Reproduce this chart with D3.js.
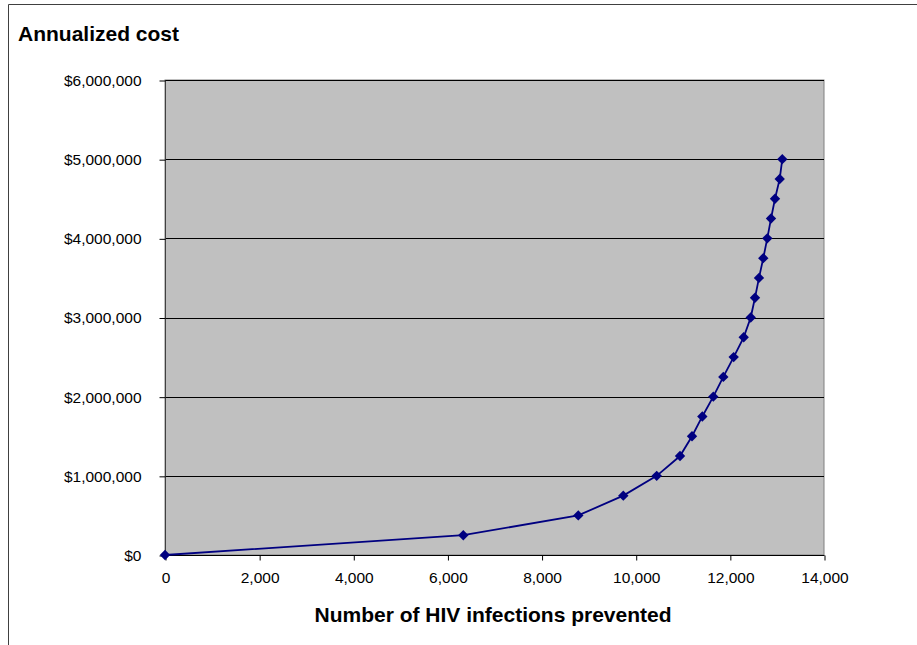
<!DOCTYPE html>
<html>
<head>
<meta charset="utf-8">
<script src="https://cdn.jsdelivr.net/npm/d3@7"></script>
<style>
  html, body { margin: 0; padding: 0; background: #fff; }
  svg { display: block; }
</style>
</head>
<body>
<svg id="chart" width="917" height="645"></svg>
<script>
const infectionsPrevented = [0, 6337, 8780, 9736, 10446, 10941, 11196, 11415, 11648, 11861, 12081, 12294, 12443, 12534, 12619, 12710, 12795, 12874, 12959, 13059, 13114];
const annualizedCost = [0, 250000, 500000, 750000, 1000000, 1250000, 1500000, 1750000, 2000000, 2250000, 2500000, 2750000, 3000000, 3250000, 3500000, 3750000, 4000000, 4250000, 4500000, 4750000, 5000000];
const xTicks = [0, 2000, 4000, 6000, 8000, 10000, 12000, 14000];
const yTicks = [0, 1000000, 2000000, 3000000, 4000000, 5000000, 6000000];
const chartTitle = "Annualized cost";
const xTitle = "Number of HIV infections prevented";

const svg = d3.select("#chart");
const font = "'Liberation Sans', Arial, sans-serif";
const plot = { left: 165, right: 824, top: 80, bottom: 555 };

const x = d3.scaleLinear().domain([0, 14000]).range([plot.left, plot.right]);
const y = d3.scaleLinear().domain([0, 6000000]).range([plot.bottom, plot.top]);

// outer chart border
svg.append("path")
  .attr("d", `M8.5,650 L8.5,4.5 L925,4.5`)
  .attr("fill", "none").attr("stroke", "#404040").attr("stroke-width", 1);

// plot background
svg.append("rect")
  .attr("x", plot.left).attr("y", plot.top)
  .attr("width", plot.right - plot.left).attr("height", plot.bottom - plot.top)
  .attr("fill", "#c0c0c0").attr("stroke", "#808080").attr("stroke-width", 1);

// gridlines
svg.append("g").selectAll("line")
  .data(yTicks.filter(d => d > 0))
  .join("line")
  .attr("x1", plot.left).attr("x2", plot.right)
  .attr("y1", d => Math.round(y(d)) + 0.5).attr("y2", d => Math.round(y(d)) + 0.5)
  .attr("stroke", "#000").attr("stroke-width", 1);

// y axis
const yAxis = d3.axisLeft(y).tickValues(yTicks).tickSize(6).tickPadding(18)
  .tickFormat(d => "$" + d3.format(",")(d));
const gy = svg.append("g").attr("transform", `translate(${plot.left + 0.5},0.5)`).call(yAxis);
gy.select(".domain").attr("stroke", "#404040").attr("d", `M0,${plot.top}V${plot.bottom}`);
gy.selectAll(".tick line").attr("stroke", "#000");
gy.selectAll(".tick text").attr("font-family", font).attr("font-size", "15.5px").attr("fill", "#000");

// x axis
const xAxis = d3.axisBottom(x).tickValues(xTicks).tickSize(5).tickPadding(11)
  .tickFormat(d3.format(","));
const gx = svg.append("g").attr("transform", `translate(0.5,${plot.bottom + 0.5})`).call(xAxis);
gx.select(".domain").attr("stroke", "#000").attr("d", `M${plot.left},0H${plot.right}`);
gx.selectAll(".tick line").attr("stroke", "#000");
gx.selectAll(".tick text").attr("font-family", font).attr("font-size", "15.5px").attr("fill", "#000");

// data
const data = infectionsPrevented.map((v, i) => ({ x: v, y: annualizedCost[i] }));
const line = d3.line().x(d => x(d.x)).y(d => y(d.y));
svg.append("path").datum(data)
  .attr("d", line).attr("fill", "none").attr("stroke", "#000080").attr("stroke-width", 1.8);

svg.append("g").selectAll("path")
  .data(data)
  .join("path")
  .attr("d", d => {
    const cx = x(d.x), cy = y(d.y), r = 5.2;
    return `M${cx},${cy - r}L${cx + r},${cy}L${cx},${cy + r}L${cx - r},${cy}Z`;
  })
  .attr("fill", "#000080");

// titles
svg.append("text").attr("x", 18).attr("y", 41)
  .attr("font-family", font).attr("font-size", "21px").attr("font-weight", "bold")
  .text(chartTitle);

svg.append("text").attr("x", 493).attr("y", 621.5)
  .attr("text-anchor", "middle")
  .attr("font-family", font).attr("font-size", "21px").attr("font-weight", "bold")
  .text(xTitle);
</script>
</body>
</html>
